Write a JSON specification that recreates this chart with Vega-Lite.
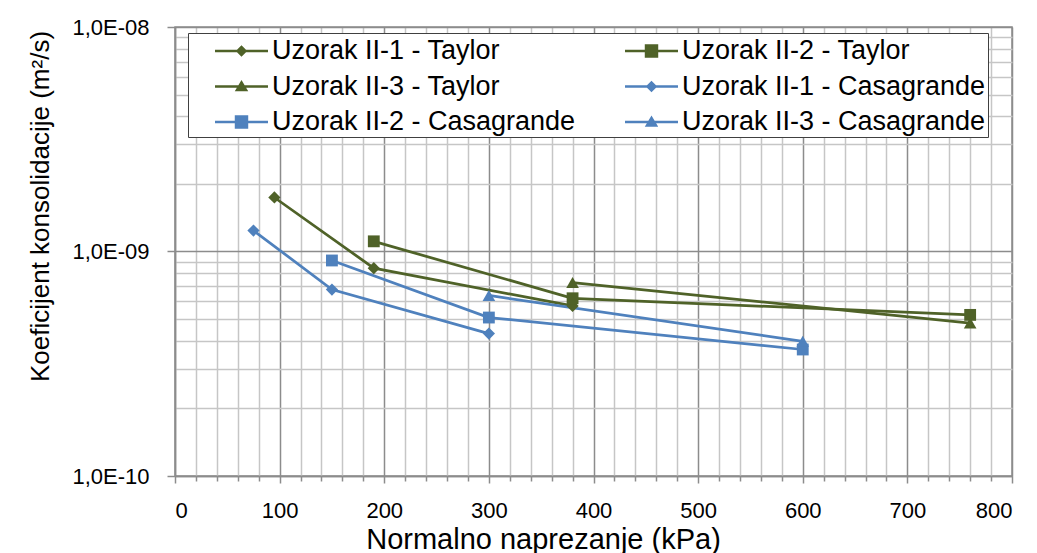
{
  "$schema": "https://vega.github.io/schema/vega-lite/v6.json",
  "width": 837,
  "height": 449,
  "autosize": {"type": "none"},
  "padding": {"left": 175, "top": 27, "right": 25, "bottom": 77},
  "background": "white",
  "config": {
    "view": {"stroke": "#8c8c8c", "strokeWidth": 1.5},
    "font": "Liberation Sans",
    "axis": {"labelFont": "Liberation Sans", "titleFont": "Liberation Sans", "labelColor": "black", "titleColor": "black", "titleFontWeight": "normal"}
  },
  "data": {
    "values": [
      {"series": "Uzorak II-1 - Taylor", "p": 95, "cv": 1.74e-9},
      {"series": "Uzorak II-1 - Taylor", "p": 190, "cv": 8.43e-10},
      {"series": "Uzorak II-1 - Taylor", "p": 380, "cv": 5.72e-10},
      {"series": "Uzorak II-2 - Taylor", "p": 190, "cv": 1.11e-9},
      {"series": "Uzorak II-2 - Taylor", "p": 380, "cv": 6.19e-10},
      {"series": "Uzorak II-2 - Taylor", "p": 760, "cv": 5.22e-10},
      {"series": "Uzorak II-3 - Taylor", "p": 380, "cv": 7.27e-10},
      {"series": "Uzorak II-3 - Taylor", "p": 760, "cv": 4.8e-10},
      {"series": "Uzorak II-1 - Casagrande", "p": 75, "cv": 1.24e-9},
      {"series": "Uzorak II-1 - Casagrande", "p": 150, "cv": 6.77e-10},
      {"series": "Uzorak II-1 - Casagrande", "p": 300, "cv": 4.31e-10},
      {"series": "Uzorak II-2 - Casagrande", "p": 150, "cv": 9.12e-10},
      {"series": "Uzorak II-2 - Casagrande", "p": 300, "cv": 5.08e-10},
      {"series": "Uzorak II-2 - Casagrande", "p": 600, "cv": 3.66e-10},
      {"series": "Uzorak II-3 - Casagrande", "p": 300, "cv": 6.37e-10},
      {"series": "Uzorak II-3 - Casagrande", "p": 600, "cv": 3.98e-10}
    ]
  },
  "resolve": {"axis": {"x": "independent", "y": "independent"}},
  "layer": [
    {
      "mark": {"type": "line", "strokeWidth": 2.75},
      "encoding": {
        "x": {
          "field": "p", "type": "quantitative",
          "scale": {"domain": [0, 800], "nice": false, "zero": false},
          "axis": {
            "orient": "bottom",
            "values": [20, 40, 60, 80, 120, 140, 160, 180, 220, 240, 260, 280, 320, 340, 360, 380, 420, 440, 460, 480, 520, 540, 560, 580, 620, 640, 660, 680, 720, 740, 760, 780],
            "grid": true, "gridColor": "#c6c6c6", "gridWidth": 1.5,
            "domain": false, "labels": false, "title": null,
            "ticks": true, "tickSize": 5, "tickColor": "#8c8c8c", "tickWidth": 1.5
          }
        },
        "y": {
          "field": "cv", "type": "quantitative",
          "scale": {"type": "log", "domain": [1e-10, 1e-8], "nice": false},
          "axis": {
            "orient": "left",
            "values": [2e-10, 3e-10, 4e-10, 5e-10, 6e-10, 7e-10, 8e-10, 9e-10, 2e-9, 3e-9, 4e-9, 5e-9, 6e-9, 7e-9, 8e-9, 9e-9],
            "grid": true, "gridColor": "#c6c6c6", "gridWidth": 1.5,
            "domain": false, "labels": false, "ticks": false, "title": null
          }
        },
        "color": {
          "field": "series", "type": "nominal",
          "scale": {
            "domain": ["Uzorak II-1 - Taylor", "Uzorak II-3 - Taylor", "Uzorak II-2 - Casagrande", "Uzorak II-2 - Taylor", "Uzorak II-1 - Casagrande", "Uzorak II-3 - Casagrande"],
            "range": ["#4F6228", "#4F6228", "#4F81BD", "#4F6228", "#4F81BD", "#4F81BD"]
          }
        }
      }
    },
    {
      "transform": [{"filter": {"field": "series", "oneOf": ["Uzorak II-1 - Taylor", "Uzorak II-1 - Casagrande"]}}],
      "mark": {"type": "point", "shape": "diamond", "filled": true, "opacity": 1, "size": 150, "strokeWidth": 1},
      "encoding": {
        "x": {
          "field": "p", "type": "quantitative",
          "axis": {
            "orient": "bottom",
            "values": [0, 100, 200, 300, 400, 500, 600, 700, 800],
            "format": "d",
            "grid": true, "gridColor": "#8c8c8c", "gridWidth": 1.5,
            "domain": true, "domainColor": "#8c8c8c", "domainWidth": 1.5,
            "ticks": true, "tickSize": 7, "tickColor": "#8c8c8c", "tickWidth": 1.5,
            "labelFontSize": 22, "labelPadding": 17,
            "title": "Normalno naprezanje (kPa)",
            "titleFontSize": 29, "titleX": 368, "titleY": 72, "titleBaseline": "alphabetic", "titleAlign": "center"
          }
        },
        "y": {
          "field": "cv", "type": "quantitative",
          "axis": {
            "orient": "left",
            "values": [1e-10, 1e-9, 1e-8],
            "labelExpr": "datum.value > 5e-9 ? '1,0E-08' : (datum.value > 5e-10 ? '1,0E-09' : '1,0E-10')",
            "grid": true, "gridColor": "#8c8c8c", "gridWidth": 1.5,
            "domain": true, "domainColor": "#8c8c8c", "domainWidth": 1.5,
            "ticks": true, "tickSize": 8, "tickColor": "#8c8c8c", "tickWidth": 1.5,
            "labelFontSize": 22, "labelPadding": 18,
            "title": "Koeficijent konsolidacije (m²/s)",
            "titleFontSize": 26, "titleX": -135, "titleY": 179, "titleAngle": -90, "titleBaseline": "middle", "titleAlign": "center"
          }
        },
        "color": {"field": "series", "type": "nominal"}
      }
    },
    {
      "transform": [{"filter": {"field": "series", "oneOf": ["Uzorak II-2 - Taylor", "Uzorak II-2 - Casagrande"]}}],
      "mark": {"type": "point", "shape": "square", "filled": true, "opacity": 1, "size": 140, "strokeWidth": 1},
      "encoding": {
        "x": {"field": "p", "type": "quantitative", "axis": null},
        "y": {"field": "cv", "type": "quantitative", "axis": null},
        "color": {"field": "series", "type": "nominal"}
      }
    },
    {
      "transform": [{"filter": {"field": "series", "oneOf": ["Uzorak II-3 - Taylor", "Uzorak II-3 - Casagrande"]}}],
      "mark": {"type": "point", "shape": "triangle-up", "filled": true, "opacity": 1, "size": 160, "strokeWidth": 1},
      "encoding": {
        "x": {"field": "p", "type": "quantitative", "axis": null},
        "y": {"field": "cv", "type": "quantitative", "axis": null},
        "color": {"field": "series", "type": "nominal"}
      }
    },
    {
      "transform": [{"filter": "false"}],
      "mark": {"type": "point", "filled": true, "opacity": 1},
      "encoding": {
        "x": {"field": "p", "type": "quantitative", "axis": null},
        "y": {"field": "cv", "type": "quantitative", "axis": null},
        "color": {
          "field": "series", "type": "nominal",
          "legend": {
            "orient": "none", "legendX": 13, "legendY": 6,
            "columns": 2, "title": null,
            "fillColor": "white", "strokeColor": "#404040",
            "padding": 2, "symbolOffset": 35.5,
            "symbolSize": 1024, "symbolStrokeWidth": 0, "symbolOpacity": 1,
            "labelFont": "Liberation Sans", "labelFontSize": 27, "labelColor": "black",
            "labelOffset": 14.5, "labelLimit": 0,
            "rowPadding": 6.5, "columnPadding": 24
          }
        },
        "shape": {
          "field": "series", "type": "nominal",
          "scale": {
            "domain": ["Uzorak II-1 - Taylor", "Uzorak II-3 - Taylor", "Uzorak II-2 - Casagrande", "Uzorak II-2 - Taylor", "Uzorak II-1 - Casagrande", "Uzorak II-3 - Casagrande"],
            "range": [
              "M-1.656,-0.08H1.656V0.08H-1.656Z M-0.36,0L0,-0.36L0.36,0L0,0.36Z",
              "M-1.656,-0.08H1.656V0.08H-1.656Z M0,-0.4L0.42,0.3H-0.42Z",
              "M-1.656,-0.08H1.656V0.08H-1.656Z M-0.42,-0.42H0.42V0.42H-0.42Z",
              "M-1.656,-0.08H1.656V0.08H-1.656Z M-0.42,-0.42H0.42V0.42H-0.42Z",
              "M-1.656,-0.08H1.656V0.08H-1.656Z M-0.36,0L0,-0.36L0.36,0L0,0.36Z",
              "M-1.656,-0.08H1.656V0.08H-1.656Z M0,-0.4L0.42,0.3H-0.42Z"
            ]
          },
          "legend": {
            "orient": "none", "legendX": 13, "legendY": 6,
            "columns": 2, "title": null,
            "fillColor": "white", "strokeColor": "#404040",
            "padding": 2, "symbolOffset": 35.5,
            "symbolSize": 1024, "symbolStrokeWidth": 0, "symbolOpacity": 1,
            "labelFont": "Liberation Sans", "labelFontSize": 27, "labelColor": "black",
            "labelOffset": 14.5, "labelLimit": 0,
            "rowPadding": 6.5, "columnPadding": 24
          }
        }
      }
    }
  ]
}
